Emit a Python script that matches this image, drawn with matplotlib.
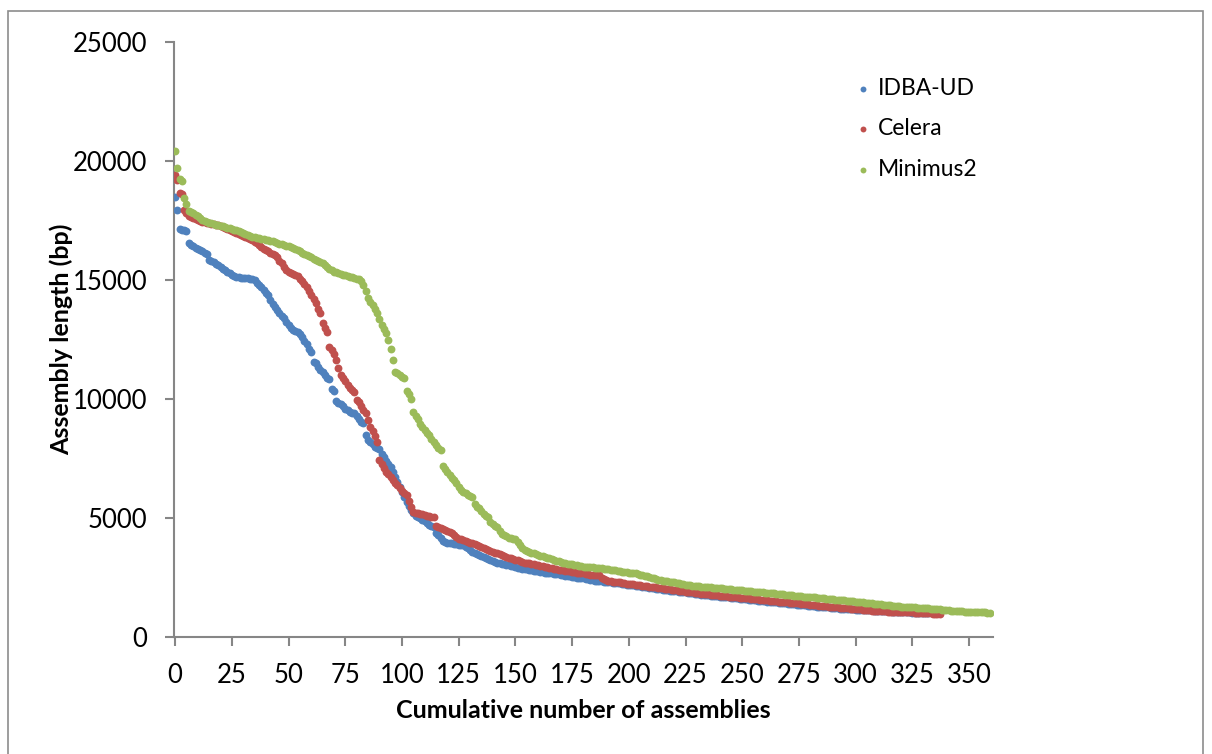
import numpy as np
import matplotlib
matplotlib.use("Agg")
import matplotlib.pyplot as plt
from matplotlib.patches import Rectangle

# Assembly lengths (bp), sorted, one value per assembly
idba_ud = [
    18490, 17930, 17150, 17100, 17080, 17050, 16550, 16480, 16420, 16360,
    16300, 16250, 16200, 16150, 16100, 15850, 15800, 15750, 15680, 15620,
    15550, 15480, 15420, 15350, 15280, 15220, 15170, 15130, 15120, 15100,
    15090, 15080, 15070, 15060, 15050, 14980, 14880, 14800, 14700, 14600,
    14450, 14360, 14150, 14010, 13850, 13730, 13620, 13500, 13400, 13250,
    13100, 12980, 12900, 12850, 12800, 12750, 12600, 12450, 12300, 12100,
    11960, 11560, 11500, 11350, 11210, 11140, 11000, 10900, 10820, 10400,
    10350, 9920, 9850, 9800, 9700, 9600, 9530, 9460, 9430, 9400,
    9300, 9140, 9050, 8980, 8500, 8270, 8200, 8100, 8000, 7940,
    7880, 7700, 7570, 7400, 7280, 7150, 6950, 6730, 6500, 6310,
    6100, 5900, 5680, 5500, 5350, 5200, 5100, 5050, 4980, 4930,
    4880, 4800, 4720, 4680, 4630, 4350, 4280, 4150, 4050, 4000,
    3960, 3950, 3940, 3920, 3900, 3880, 3870, 3860, 3800, 3720,
    3640, 3580, 3530, 3490, 3450, 3400, 3360, 3320, 3280, 3230,
    3180, 3150, 3120, 3100, 3080, 3060, 3040, 3020, 3000, 2970,
    2940, 2910, 2880, 2870, 2860, 2840, 2820, 2800, 2790, 2780,
    2760, 2740, 2720, 2710, 2700, 2690, 2680, 2660, 2650, 2630,
    2610, 2600, 2580, 2560, 2550, 2530, 2520, 2500, 2490, 2470,
    2460, 2440, 2420, 2400, 2390, 2370, 2360, 2350, 2340, 2330,
    2320, 2310, 2300, 2280, 2270, 2260, 2250, 2230, 2220, 2200,
    2190, 2180, 2170, 2160, 2150, 2130, 2120, 2100, 2090, 2070,
    2060, 2040, 2030, 2020, 2000, 1990, 1980, 1960, 1950, 1940,
    1930, 1920, 1900, 1890, 1880, 1870, 1860, 1840, 1830, 1820,
    1800, 1790, 1780, 1770, 1760, 1750, 1740, 1730, 1720, 1710,
    1700, 1690, 1680, 1670, 1660, 1650, 1640, 1630, 1620, 1610,
    1600, 1590, 1580, 1570, 1560, 1550, 1540, 1530, 1520, 1510,
    1500, 1490, 1480, 1470, 1460, 1450, 1440, 1430, 1420, 1410,
    1400, 1390, 1380, 1370, 1360, 1350, 1340, 1335, 1330, 1320,
    1310, 1300, 1290, 1280, 1270, 1260, 1250, 1245, 1240, 1230,
    1220, 1210, 1200, 1195, 1190, 1185, 1180, 1170, 1165, 1160,
    1150, 1145, 1140, 1135, 1130, 1125, 1120, 1115, 1110, 1105,
    1100, 1095, 1090, 1085, 1080, 1075, 1070, 1065, 1060, 1055,
    1050, 1045, 1040, 1035, 1030, 1025, 1020, 1015, 1012, 1009,
    1006, 1003, 1000,
]

celera = [
    19400, 19200, 18650, 18600, 17950, 17800, 17700, 17650, 17600, 17550,
    17500, 17470, 17440, 17420, 17400, 17380, 17360, 17340, 17320, 17300,
    17260, 17220, 17180, 17130, 17080, 17040, 17000, 16970, 16930, 16890,
    16850, 16820, 16780, 16720, 16660, 16600, 16540, 16470, 16400, 16320,
    16270, 16210, 16150, 16090, 16030, 15970, 15800, 15700, 15550, 15400,
    15340, 15300, 15250, 15200, 15150, 15050, 14950, 14850, 14720, 14550,
    14360, 14200, 14050, 13800, 13620, 13190, 12980, 12820, 12200, 12050,
    11910, 11630, 11300, 11000, 10900, 10750, 10580, 10480, 10380, 10300,
    9950, 9880, 9700, 9550, 9400, 9100, 8830, 8650, 8440, 8200,
    7430, 7250, 7080, 6950, 6850, 6730, 6600, 6480, 6380, 6250,
    6150, 6050, 5960, 5700, 5450, 5260, 5230, 5200, 5180, 5150,
    5120, 5100, 5080, 5060, 5050, 4660, 4620, 4580, 4540, 4500,
    4460, 4420, 4350, 4280, 4200, 4120, 4100, 4060, 4030, 4000,
    3960, 3930, 3890, 3860, 3820, 3780, 3740, 3700, 3650, 3610,
    3580, 3540, 3510, 3470, 3430, 3400, 3370, 3340, 3310, 3280,
    3250, 3220, 3190, 3160, 3130, 3110, 3090, 3070, 3050, 3030,
    3010, 2990, 2970, 2950, 2930, 2910, 2890, 2870, 2850, 2830,
    2810, 2800, 2790, 2770, 2760, 2740, 2730, 2710, 2700, 2690,
    2670, 2650, 2640, 2620, 2600, 2600, 2600, 2600, 2480, 2420,
    2380, 2360, 2340, 2320, 2310, 2300, 2290, 2270, 2250, 2240,
    2230, 2220, 2210, 2200, 2190, 2170, 2160, 2140, 2130, 2110,
    2100, 2090, 2080, 2070, 2050, 2040, 2030, 2010, 2000, 1990,
    1980, 1960, 1950, 1940, 1920, 1910, 1900, 1890, 1880, 1860,
    1850, 1830, 1820, 1810, 1800, 1790, 1780, 1770, 1760, 1750,
    1740, 1730, 1720, 1710, 1700, 1690, 1680, 1670, 1660, 1650,
    1645, 1640, 1630, 1620, 1610, 1600, 1590, 1580, 1570, 1560,
    1550, 1540, 1530, 1520, 1510, 1500, 1490, 1480, 1470, 1460,
    1450, 1445, 1440, 1430, 1420, 1410, 1400, 1390, 1380, 1370,
    1360, 1350, 1340, 1330, 1320, 1310, 1300, 1290, 1280, 1270,
    1260, 1250, 1240, 1235, 1230, 1220, 1210, 1200, 1195, 1190,
    1180, 1170, 1160, 1150, 1140, 1130, 1120, 1110, 1100, 1095,
    1090, 1085, 1080, 1075, 1070, 1068, 1066, 1064, 1062, 1060,
    1055, 1050, 1045, 1040, 1035, 1030, 1025, 1020, 1015, 1010,
    1005, 1000, 995, 990, 985, 980, 975, 970,
]

minimus2 = [
    20400, 19700, 19250, 19150, 18450, 18200, 17900, 17850, 17800, 17750,
    17700, 17600, 17500, 17470, 17440, 17400, 17380, 17350, 17320, 17300,
    17280, 17250, 17230, 17200, 17180, 17150, 17120, 17100, 17060, 17020,
    16980, 16940, 16900, 16850, 16820, 16790, 16770, 16750, 16730, 16710,
    16690, 16670, 16650, 16620, 16590, 16560, 16530, 16500, 16470, 16440,
    16410, 16380, 16350, 16300, 16250, 16200, 16150, 16100, 16050, 16000,
    15950, 15880, 15820, 15790, 15760, 15700, 15620, 15540, 15460, 15400,
    15350, 15320, 15290, 15260, 15230, 15200, 15170, 15140, 15110, 15090,
    15060, 15030, 14950, 14780, 14530, 14250, 14080, 13950, 13800, 13620,
    13350, 13100, 12950, 12780, 12470, 12100, 11630, 11150, 11090, 11000,
    10930, 10900, 10350, 10200, 10010, 9460, 9300, 9150, 8950, 8830,
    8700, 8580, 8480, 8300, 8200, 8050, 7950, 7850, 7180, 7050,
    6920, 6800, 6700, 6600, 6450, 6300, 6170, 6100, 6050, 5980,
    5920, 5890, 5600, 5470, 5400, 5300, 5150, 5080, 5050, 4850,
    4750, 4680, 4630, 4450, 4330, 4280, 4230, 4180, 4150, 4120,
    4100, 4000, 3850, 3720, 3660, 3620, 3580, 3550, 3510, 3480,
    3440, 3420, 3390, 3360, 3330, 3300, 3270, 3240, 3210, 3180,
    3150, 3120, 3100, 3080, 3070, 3050, 3030, 3010, 3000, 2980,
    2960, 2950, 2950, 2940, 2930, 2920, 2910, 2900, 2880, 2860,
    2850, 2840, 2820, 2810, 2800, 2780, 2770, 2750, 2730, 2720,
    2700, 2700, 2690, 2680, 2660, 2620, 2590, 2570, 2550, 2530,
    2500, 2460, 2430, 2400, 2380, 2360, 2350, 2340, 2330, 2320,
    2310, 2280, 2250, 2230, 2210, 2200, 2190, 2170, 2160, 2150,
    2140, 2130, 2120, 2110, 2090, 2085, 2080, 2070, 2060, 2050,
    2045, 2040, 2030, 2020, 2010, 2000, 1995, 1990, 1980, 1970,
    1960, 1950, 1940, 1930, 1920, 1910, 1900, 1890, 1880, 1870,
    1860, 1855, 1850, 1840, 1830, 1820, 1810, 1800, 1790, 1780,
    1770, 1760, 1750, 1740, 1730, 1720, 1710, 1700, 1690, 1680,
    1670, 1665, 1660, 1650, 1640, 1630, 1620, 1610, 1600, 1590,
    1580, 1570, 1560, 1550, 1545, 1540, 1530, 1520, 1510, 1495,
    1480, 1470, 1460, 1450, 1440, 1430, 1420, 1410, 1400, 1390,
    1380, 1370, 1360, 1350, 1340, 1325, 1310, 1300, 1295, 1290,
    1280, 1270, 1265, 1260, 1250, 1245, 1240, 1230, 1225, 1220,
    1210, 1205, 1200, 1190, 1180, 1170, 1165, 1160, 1150, 1140,
    1130, 1120, 1110, 1100, 1095, 1090, 1085, 1080, 1070, 1060,
    1058, 1055, 1052, 1050, 1045, 1040, 1035, 1030, 1025, 1020,
]

series_names = ["IDBA-UD", "Celera", "Minimus2"]
series_values = [idba_ud, celera, minimus2]
series_colors = ["#4F81BD", "#C0504D", "#9BBB59"]

x_ticks = list(range(0, 351, 25))
y_ticks = list(range(0, 25001, 5000))

plt.rcParams["font.family"] = ["Lato", "DejaVu Sans"]

W, H = 1212, 754
fig = plt.figure(figsize=(W / 100, H / 100), dpi=100)
ax = fig.add_axes([174 / W, 1 - 637 / H, (993 - 174) / W, (637 - 42) / H])

for name, vals, col in zip(series_names, series_values, series_colors):
    ax.scatter(np.arange(len(vals)), vals, s=32, color=col, linewidths=0,
               label=name, zorder=3)

ax.set_xlim(-0.5, 360.5)
ax.set_ylim(0, 25000)
ax.set_xticks(x_ticks)
ax.set_yticks(y_ticks)

axis_grey = "#868686"
for side in ["top", "right"]:
    ax.spines[side].set_visible(False)
for side in ["left", "bottom"]:
    ax.spines[side].set_color(axis_grey)
    ax.spines[side].set_linewidth(1.5)
ax.tick_params(axis="both", color=axis_grey, width=1.5, length=6.5,
               labelsize=18.5, labelcolor="black")
ax.tick_params(axis="y", pad=12.5)
ax.tick_params(axis="x", pad=12)

ax.set_xlabel("Cumulative number of assemblies", fontsize=18,
              fontweight="bold")
ax.set_ylabel("Assembly length (bp)", fontsize=18, fontweight="bold")
ax.xaxis.set_label_coords(0.5, -0.105)
ax.yaxis.set_label_coords(-0.123, 0.5)

leg = ax.legend(loc="upper left", bbox_to_anchor=(0.816, 0.955), frameon=False,
                fontsize=16.5, markerscale=0.75, handlelength=1.0,
                handletextpad=0.15, labelspacing=0.85, scatterpoints=1,
                borderaxespad=0)

# outer chart border
fig.add_artist(Rectangle((8 / W, -0.01), (1203 - 8) / W, 1 - 11 / H + 0.01,
                         transform=fig.transFigure, fill=False,
                         edgecolor="#8c8c8c", linewidth=1.2))

fig.savefig("out.png", dpi=100)
